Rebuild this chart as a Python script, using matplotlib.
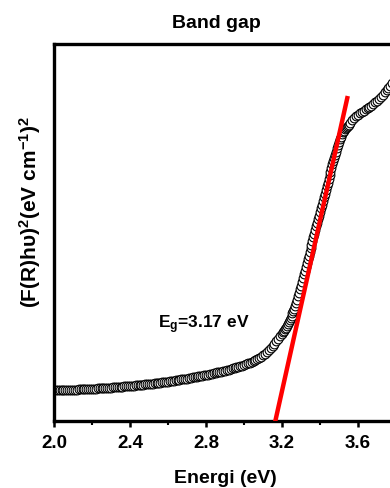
import matplotlib
matplotlib.use("Agg")
import matplotlib.pyplot as plt

plt.rcParams['font.family'] = ['Liberation Sans', 'DejaVu Sans']
plt.rcParams['font.weight'] = 'bold'
plt.rcParams['mathtext.fontset'] = 'custom'
plt.rcParams['mathtext.rm'] = 'Liberation Sans:bold'
plt.rcParams['mathtext.it'] = 'Liberation Sans:bold'
plt.rcParams['mathtext.bf'] = 'Liberation Sans:bold'
plt.rcParams['mathtext.default'] = 'bf'

# ---- data ----
energy_flat = [2.00, 2.01, 2.02, 2.03, 2.04, 2.05, 2.06, 2.07, 2.08, 2.09,
               2.10, 2.11, 2.12, 2.13, 2.14, 2.15, 2.16, 2.17, 2.18, 2.19,
               2.20, 2.21, 2.22, 2.23, 2.24, 2.25, 2.26, 2.27, 2.28, 2.29,
               2.30, 2.31, 2.32, 2.33, 2.34, 2.35, 2.36, 2.37, 2.38, 2.39,
               2.40, 2.41, 2.42, 2.43, 2.44, 2.45, 2.46, 2.47, 2.48, 2.49,
               2.50, 2.51, 2.52, 2.53, 2.54, 2.55, 2.56, 2.57, 2.58, 2.59,
               2.60, 2.61, 2.62, 2.63, 2.64, 2.65, 2.66, 2.67, 2.68, 2.69,
               2.70, 2.71, 2.72, 2.73, 2.74, 2.75, 2.76, 2.77, 2.78, 2.79,
               2.80, 2.81, 2.82, 2.83, 2.84, 2.85, 2.86, 2.87, 2.88, 2.89,
               2.90, 2.91, 2.92, 2.93, 2.94, 2.95, 2.96, 2.97, 2.98, 2.99]
value_flat = [0.310, 0.310, 0.310, 0.311, 0.311, 0.312, 0.312, 0.313, 0.313, 0.314,
              0.314, 0.315, 0.315, 0.316, 0.317, 0.318, 0.319, 0.320, 0.321, 0.322,
              0.323, 0.324, 0.325, 0.326, 0.327, 0.328, 0.330, 0.331, 0.332, 0.334,
              0.335, 0.337, 0.338, 0.340, 0.341, 0.343, 0.344, 0.346, 0.347, 0.349,
              0.350, 0.352, 0.354, 0.356, 0.358, 0.360, 0.362, 0.364, 0.366, 0.368,
              0.370, 0.373, 0.375, 0.378, 0.380, 0.383, 0.385, 0.388, 0.390, 0.393,
              0.395, 0.398, 0.401, 0.404, 0.407, 0.410, 0.413, 0.416, 0.419, 0.422,
              0.425, 0.429, 0.432, 0.436, 0.439, 0.443, 0.446, 0.450, 0.453, 0.457,
              0.461, 0.465, 0.469, 0.473, 0.477, 0.482, 0.486, 0.491, 0.495, 0.500,
              0.505, 0.510, 0.515, 0.521, 0.526, 0.532, 0.537, 0.543, 0.549, 0.555]

energy_onset = [3.00, 3.01, 3.02, 3.03, 3.04, 3.05, 3.06, 3.07, 3.08, 3.09,
                3.10, 3.11, 3.12, 3.13, 3.14, 3.15, 3.16, 3.17, 3.18, 3.19, 3.20]
value_onset = [0.562, 0.569, 0.576, 0.584, 0.592, 0.601, 0.610, 0.621, 0.632, 0.645,
               0.658, 0.674, 0.690, 0.709, 0.728, 0.751, 0.775, 0.800, 0.825, 0.850, 0.875]

energy_edge = [3.205, 3.210, 3.215, 3.220, 3.225, 3.230, 3.235, 3.240, 3.245, 3.250,
               3.255, 3.260, 3.265, 3.270, 3.275, 3.280, 3.285, 3.290, 3.295, 3.300,
               3.305, 3.310, 3.315, 3.320, 3.325, 3.330, 3.335, 3.340, 3.345, 3.350,
               3.355, 3.360, 3.365, 3.370, 3.375, 3.380, 3.385, 3.390, 3.395, 3.400,
               3.405, 3.410, 3.415, 3.420, 3.425, 3.430, 3.435, 3.440, 3.445, 3.450,
               3.455, 3.460, 3.465, 3.470, 3.475, 3.480, 3.485, 3.490, 3.495, 3.500,
               3.505, 3.510, 3.515, 3.520, 3.525, 3.530, 3.535, 3.540, 3.545, 3.550]
value_edge = [0.888, 0.902, 0.917, 0.933, 0.950, 0.968, 0.988, 1.009, 1.031, 1.054,
              1.077, 1.100, 1.124, 1.150, 1.180, 1.212, 1.246, 1.281, 1.317, 1.354,
              1.391, 1.429, 1.467, 1.505, 1.543, 1.580, 1.617, 1.654, 1.690, 1.727,
              1.763, 1.800, 1.836, 1.872, 1.909, 1.945, 1.982, 2.018, 2.054, 2.091,
              2.127, 2.164, 2.200, 2.237, 2.273, 2.310, 2.346, 2.383, 2.419, 2.456,
              2.492, 2.529, 2.565, 2.600, 2.628, 2.660, 2.695, 2.728, 2.760, 2.790,
              2.818, 2.843, 2.866, 2.886, 2.903, 2.918, 2.930, 2.940, 2.948, 2.956]

energy_high = [3.56, 3.57, 3.58, 3.59, 3.60, 3.61, 3.62, 3.63, 3.64, 3.65,
               3.66, 3.67, 3.68, 3.69, 3.70, 3.71, 3.72, 3.73, 3.74, 3.75,
               3.76, 3.77, 3.78]
value_high = [2.980, 3.005, 3.027, 3.046, 3.063, 3.078, 3.091, 3.103, 3.115, 3.127,
              3.140, 3.154, 3.169, 3.186, 3.204, 3.223, 3.243, 3.264, 3.286, 3.308,
              3.330, 3.352, 3.375]

fit_energy = [3.159, 3.546]
fit_value = [-0.05, 3.25]

xticks = [2.0, 2.4, 2.8, 3.2, 3.6]
xtick_labels = ['2.0', '2.4', '2.8', '3.2', '3.6']
minor_xticks = [2.2, 2.6, 3.0, 3.4, 3.8]

energy = energy_flat + energy_onset + energy_edge + energy_high
value = value_flat + value_onset + value_edge + value_high

# ---- figure ----
fig = plt.figure(figsize=(3.9, 4.89), dpi=100)
ax = fig.add_axes([54/390, 1-422/489, 342/390, 377/489])

ax.plot(energy, value, linestyle='none', marker='o', markersize=6.3,
        markerfacecolor='white', markeredgecolor='black', markeredgewidth=0.8,
        zorder=2)
ax.plot(fit_energy, fit_value, color='#ff0000', linewidth=3.2, zorder=3,
        solid_capstyle='butt')

ax.set_xlim(2.0, 3.8)
ax.set_ylim(0, 3.77)
ax.set_xticks(xticks)
ax.set_xticklabels(xtick_labels)
ax.set_xticks(minor_xticks, minor=True)
ax.set_yticks([])
ax.tick_params(axis='x', which='major', direction='out', length=4, width=1.8,
               labelsize=13.5, pad=5)
ax.tick_params(axis='x', which='minor', direction='out', length=3, width=1.5)
for lbl in ax.get_xticklabels():
    lbl.set_fontweight('bold')
for s in ax.spines.values():
    s.set_linewidth(2.4)

ax.text(2.547, 0.94, 'E$_{g}$=3.17 eV', fontsize=12.5, fontweight='bold',
        ha='left', va='baseline')

fig.text(216.5/390, 1-28/489, 'Band gap', fontsize=14, fontweight='bold',
         ha='center', va='baseline')
fig.text(225/390, 1-483/489, 'Energi (eV)', fontsize=14, fontweight='bold',
         ha='center', va='baseline')
fig.text(30/390, 1-212.5/489, '(F(R)hυ)$^2$(eV cm$^{-1}$)$^2$', fontsize=15,
         fontweight='bold', rotation=90, ha='center', va='center')

fig.savefig('out.png', dpi=100)
